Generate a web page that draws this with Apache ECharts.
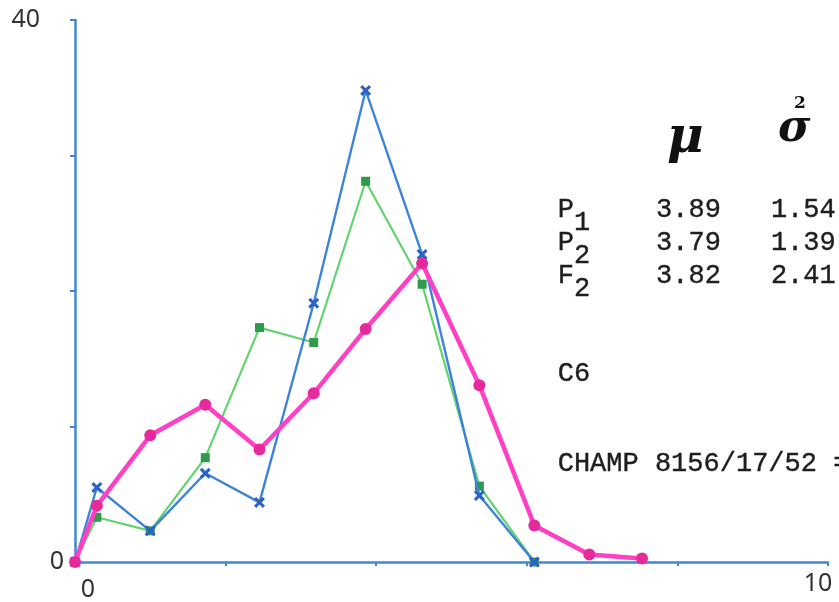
<!DOCTYPE html>
<html>
<head>
<meta charset="utf-8">
<script src="https://cdn.jsdelivr.net/npm/echarts@6/dist/echarts.min.js"></script>
<style>
html,body{margin:0;padding:0;background:#fff;}
#chart{width:839px;height:602px;}
</style>
</head>
<body>
<div id="chart"></div>
<script>
// Class positions along the x axis
var xs = [0, 0.29, 1.0, 1.73, 2.45, 3.17, 3.86, 4.61, 5.37, 6.1, 6.83, 7.53];
// Series values (frequency)
var bluePts  = [0, 5.5, 2.3, 6.55, 4.4, 19.1, 34.8, 22.7, 4.9, 0];
var greenPts = [0, 3.3, 2.3, 7.7, 17.3, 16.2, 28.1, 20.5, 5.6, 0];
var pinkPts  = [0, 4.15, 9.35, 11.6, 8.3, 12.45, 17.2, 22.05, 13.05, 2.7, 0.55, 0.25];
// Tick labels that are printed
var xLabelValues = [0, 10];
var yLabelValues = [0, 40];
// Stats table
var rowNames = ['P', 'P', 'F'];
var rowSubs = ['1', '2', '2'];
var muVals = ['3.89', '3.79', '3.82'];
var sigmaVals = ['1.54', '1.39', '2.41'];
var note1 = 'C6';
var note2 = 'CHAMP 8156/17/52 =';

function pairs(vals) {
  return vals.map(function (v, i) { return [xs[i], v]; });
}

var xMark = 'path://M2,0L5,3L8,0L10,2L7,5L10,8L8,10L5,7L2,10L0,8L3,5L0,2Z';
var axisBlue = '#3f86d6';
var mono = '"Liberation Mono", "DejaVu Sans Mono", monospace';
var txtColor = '#1e1e1e';

var graphics = [];
var rowY = [209, 242, 275];
var pitch = 16.4;
var col0 = 557.5;
function tw(x, y, s) {
  return {type: 'text', left: x, top: y,
    style: {text: s, font: '27px ' + mono, fill: txtColor, stroke: txtColor, lineWidth: 0.4}};
}
for (var i = 0; i < rowNames.length; i++) {
  graphics.push(tw(col0, rowY[i] - 13, rowNames[i]));
  graphics.push(tw(col0 + pitch, rowY[i], rowSubs[i]));
  graphics.push(tw(col0 + pitch * 6, rowY[i] - 13, muVals[i]));
  graphics.push(tw(col0 + pitch * 13, rowY[i] - 13, sigmaVals[i]));
}
graphics.push(tw(col0, 373 - 13, note1));
graphics.push(tw(col0, 463 - 13, note2));
graphics.push({type: 'text', left: 667, top: 114,
  style: {text: 'μ', font: 'italic bold 50px "DejaVu Serif", serif', fill: '#111'}});
graphics.push({type: 'text', left: 778, top: 108,
  style: {text: 'σ', font: 'italic bold 44px "DejaVu Serif", serif', fill: '#111'}});
graphics.push({type: 'text', left: 794, top: 95,
  style: {text: '2', font: 'bold 17px "DejaVu Serif", serif', fill: '#111'}});

var chart = echarts.init(document.getElementById('chart'), null, {renderer: 'canvas'});
chart.setOption({
  animation: false,
  backgroundColor: '#fff',
  grid: {left: 75, right: 11, top: 20, bottom: 37, containLabel: false},
  xAxis: {
    type: 'value', min: 0, max: 10, interval: 2,
    splitLine: {show: false},
    axisLine: {show: true, onZero: false, lineStyle: {color: axisBlue, width: 2.5}},
    axisTick: {show: true, length: 4, inside: false, lineStyle: {color: axisBlue, width: 2}},
    axisLabel: {
      show: true, margin: 9, color: '#333', fontFamily: '"Noto Sans", sans-serif', fontSize: 25,
      formatter: function (v) {
        if (xLabelValues.indexOf(v) < 0) return '';
        return v === 0 ? '{a|' + v + '}' : '{b|' + v + '}';
      },
      rich: {
        a: {fontSize: 25, fontFamily: '"Noto Sans", sans-serif', color: '#333', padding: [6, 0, 0, 26]},
        b: {fontSize: 25, fontFamily: '"Noto Sans", sans-serif', color: '#333', padding: [0, 20, 0, 0]}
      }
    }
  },
  yAxis: {
    type: 'value', min: 0, max: 40, interval: 10,
    splitLine: {show: false},
    axisLine: {show: true, onZero: false, lineStyle: {color: axisBlue, width: 2.5}},
    axisTick: {show: true, length: 5, inside: false, lineStyle: {color: axisBlue, width: 2}},
    axisLabel: {
      show: true, margin: 11, color: '#333', fontFamily: '"Noto Sans", sans-serif', fontSize: 25,
      formatter: function (v) {
        if (yLabelValues.indexOf(v) < 0) return '';
        return v === 0 ? '{a|' + v + '}' : '{b|' + v + '}';
      },
      rich: {
        a: {fontSize: 25, fontFamily: '"Noto Sans", sans-serif', color: '#333'},
        b: {fontSize: 25, fontFamily: '"Noto Sans", sans-serif', color: '#333', padding: [0, 24, 0, 0]}
      }
    }
  },
  series: [
    {
      name: 'P1', type: 'line', data: pairs(bluePts),
      lineStyle: {color: '#3d84d9', width: 2.4},
      symbol: xMark, symbolSize: 11,
      itemStyle: {color: '#2b62c4'}, z: 3
    },
    {
      name: 'P2', type: 'line', data: pairs(greenPts),
      lineStyle: {color: '#62d36e', width: 2.2},
      symbol: 'rect', symbolSize: 9,
      itemStyle: {color: '#2f9a4e'}, z: 2
    },
    {
      name: 'F2', type: 'line', data: pairs(pinkPts),
      lineStyle: {color: '#ff40c4', width: 4.5},
      symbol: 'circle', symbolSize: 12,
      itemStyle: {color: '#e62a9c'}, z: 4
    }
  ],
  graphic: graphics
});
</script>
</body>
</html>
